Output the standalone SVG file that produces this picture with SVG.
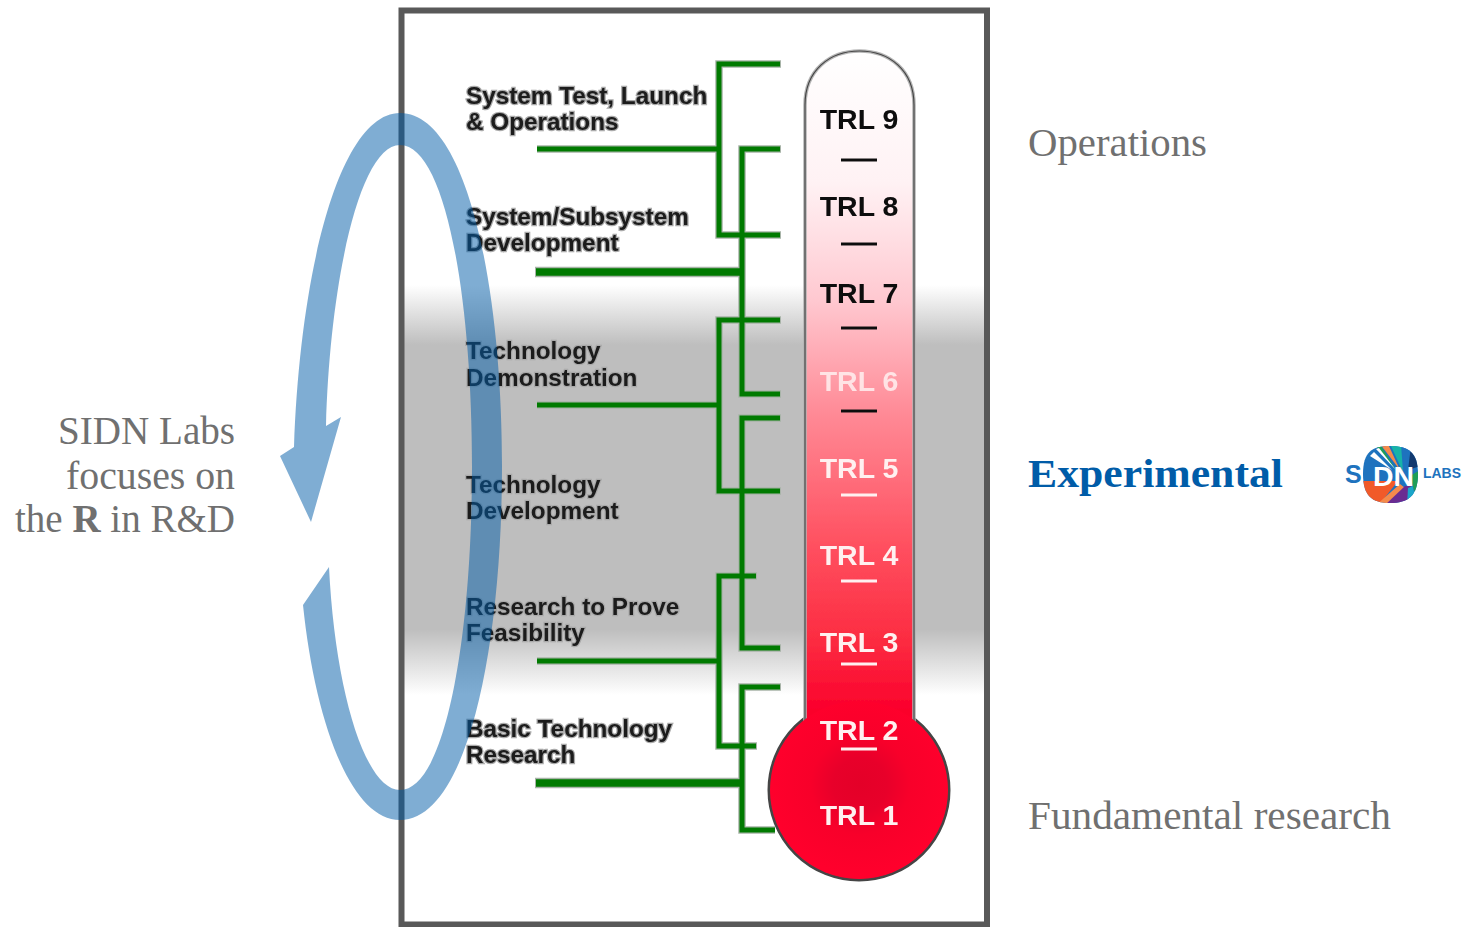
<svg xmlns="http://www.w3.org/2000/svg" width="1463" height="927" viewBox="0 0 1463 927">
<style>
.serif{font-family:"Liberation Serif","Times New Roman",serif;font-size:40px;fill:#707070}
.lbl{font-family:"Liberation Sans",Arial,sans-serif;font-weight:700;font-size:24.300px;fill:#1a1a1a;stroke:#aaa;stroke-width:2.500px;paint-order:stroke;filter:url(#soft)}
.trl{font-family:"Liberation Sans",Arial,sans-serif;font-weight:700;font-size:28.500px;text-anchor:middle;filter:url(#soft)}
.dk{fill:#0a0a0a}.lt{fill:#fff0f0}
.halo{stroke:#a8b4a8;fill:none;stroke-linecap:butt;filter:url(#soft)}
.gr{stroke:#007a00;fill:none;stroke-linecap:butt;filter:url(#soft)}
.h3{stroke-width:7.500px}.h5{stroke-width:10.500px}.g3{stroke-width:5px}.g5{stroke-width:7.500px}
.tick{stroke-width:3px;filter:url(#soft)}
</style>
<defs>
<filter id="soft" x="-5%" y="-30%" width="110%" height="160%"><feGaussianBlur stdDeviation="0.7"/></filter>
<linearGradient id="band" x1="0" y1="0" x2="0" y2="1">
<stop offset="0" stop-color="#fff"/>
<stop offset="0.146" stop-color="#bebebe"/>
<stop offset="0.84" stop-color="#bebebe"/>
<stop offset="1" stop-color="#fff"/>
</linearGradient>
<linearGradient id="merc" gradientUnits="userSpaceOnUse" x1="0" y1="50" x2="0" y2="710">
<stop offset="0" stop-color="#fff"/>
<stop offset="0.2" stop-color="#fff2f4"/>
<stop offset="0.38" stop-color="#ffc8d0"/>
<stop offset="0.55" stop-color="#ff8a96"/>
<stop offset="0.75" stop-color="#ff5060"/>
<stop offset="0.9" stop-color="#fc2a40"/>
<stop offset="1" stop-color="#fb002c"/>
</linearGradient>
<radialGradient id="bulb" gradientUnits="userSpaceOnUse" cx="860" cy="785" r="90">
<stop offset="0" stop-color="#e40028"/>
<stop offset="0.3" stop-color="#e8002a"/>
<stop offset="0.55" stop-color="#f8002a"/>
<stop offset="1" stop-color="#ff002c"/>
</radialGradient>
<clipPath id="blob"><path d="M1390 446C1408 446 1418 452 1418 474C1418 496 1408 503 1390 503C1372 503 1363 496 1363 474C1363 452 1372 446 1390 446Z"/></clipPath>
</defs>

<g id="frame">
<rect x="401" y="285" width="587" height="410" fill="url(#band)"/>
<rect x="401.500" y="10.500" width="585.500" height="914" fill="none" stroke="#595959" stroke-width="6"/>
</g>

<g id="connectors">
<path class="halo h3" d="M781 64H719V235H781M537 149H719M781 149H742V394H781M781 320H719V491H781M537 405H719M781 418H742V648H781M757 576H719V746H757M537 661H719M781 687H742V830H775"/>
<path class="halo h5" d="M535 272H742M535 783H742"/>
<path class="halo" stroke-width="8" d="M535 540H742"/>
<path class="gr g3" d="M780 64H719V235H780M537 149H719M780 149H742V394H780M780 320H719V491H780M537 405H719M780 418H742V648H780M756 576H719V746H756M537 661H719M780 687H742V830H775"/>
<path class="gr g5" d="M536 272H742M536 783H742"/>
<path class="gr" stroke-width="5.500" d="M536 540H742"/>
</g>

<g id="labels">
<text class="lbl" x="466" y="104">System Test, Launch</text>
<text class="lbl" x="466" y="130">&amp; Operations</text>
<text class="lbl" x="466" y="225">System/Subsystem</text>
<text class="lbl" x="466" y="251">Development</text>
<text class="lbl" x="466" y="359">Technology</text>
<text class="lbl" x="466" y="386">Demonstration</text>
<text class="lbl" x="466" y="493">Technology</text>
<text class="lbl" x="466" y="519">Development</text>
<text class="lbl" x="466" y="615">Research to Prove</text>
<text class="lbl" x="466" y="641">Feasibility</text>
<text class="lbl" x="466" y="737">Basic Technology</text>
<text class="lbl" x="466" y="763">Research</text>
</g>

<g id="thermometer">
<circle cx="859" cy="790" r="90" fill="#f80a2c" stroke="#444" stroke-width="3" filter="url(#soft)"/>
<path d="M805 725V105C805 70 830 51 859.500 51C889 51 914 70 914 105V725Z" fill="url(#merc)" stroke="#b4b4b4" stroke-width="3.500" filter="url(#soft)"/>
<path d="M805 725V105C805 70 830 51 859.500 51C889 51 914 70 914 105V725" fill="none" stroke="#444" stroke-width="1.200" filter="url(#soft)"/>
<circle cx="859" cy="790" r="89" fill="url(#bulb)"/>
<text class="trl dk" x="859" y="129">TRL 9</text>
<text class="trl dk" x="859" y="216">TRL 8</text>
<text class="trl dk" x="859" y="303">TRL 7</text>
<text class="trl lt" x="859" y="391" opacity="0.85">TRL 6</text>
<text class="trl lt" x="859" y="478">TRL 5</text>
<text class="trl lt" x="859" y="565">TRL 4</text>
<text class="trl lt" x="859" y="652">TRL 3</text>
<text class="trl lt" x="859" y="740">TRL 2</text>
<text class="trl lt" x="859" y="825">TRL 1</text>
<path class="tick" stroke="#111" d="M841 160H877M841 244H877M841 328H877M841 411H877"/>
<path class="tick" stroke="#fff0f0" d="M841 495H877M841 581H877M841 664H877M841 749H877"/>
</g>

<g id="cycle">
<path fill="#005ca8" fill-opacity="0.5" fill-rule="evenodd" d="M400 113C468 113 502 290 502 466C502 645 468 820 400 820C350 820 315 720 303 605L329 567C335 690 365 790 400 790C445 790 472 640 472 466C472 295 445 145 400 145C360 145 330 280 326 426L341 417L311 522L280 456L294 447C300 270 340 113 400 113Z"/>
</g>

<g id="sidetext">
<text class="serif" x="235" y="444" text-anchor="end" textLength="177" lengthAdjust="spacingAndGlyphs">SIDN Labs</text>
<text class="serif" x="235" y="489" text-anchor="end" textLength="169" lengthAdjust="spacingAndGlyphs">focuses on</text>
<text class="serif" x="235" y="532" text-anchor="end" textLength="220" lengthAdjust="spacingAndGlyphs">the <tspan font-weight="700">R</tspan> in R&amp;D</text>
<text class="serif" x="1028" y="156" textLength="179" lengthAdjust="spacingAndGlyphs">Operations</text>
<text class="serif" x="1028" y="487" font-weight="700" style="fill:#005ca8" textLength="255" lengthAdjust="spacingAndGlyphs">Experimental</text>
<text class="serif" x="1028" y="829" textLength="363" lengthAdjust="spacingAndGlyphs">Fundamental research</text>
</g>

<g id="logo">
<g clip-path="url(#blob)">
<rect x="1360" y="444" width="60" height="62" fill="#1e73be"/>
<path d="M1360 481H1398L1375 510H1360Z" fill="#f15a29"/>
<path d="M1400 484L1375 506H1386L1405 488Z" fill="#f58a4b"/>
<path d="M1405 486L1384 506H1407L1411 486Z" fill="#6a2c91"/>
<path d="M1408 488L1407 506H1416L1413 486Z" fill="#1ba6c9"/>
<path d="M1410 476L1420 470V500L1414 490Z" fill="#1f9e57"/>
<path d="M1408 470L1420 466V446H1411Z" fill="#12396f"/>
<path d="M1405 470L1411 446H1401Z" fill="#1e73be"/>
<path d="M1403 472L1401 444H1390Z" fill="#17b3a8"/>
<path d="M1400 470L1388 444H1380Z" fill="#f58a4b"/>
<path d="M1396 470L1380 444H1374Z" fill="#1f9e57"/>
<path d="M1392 470L1374 452L1370 456Z" fill="#fff"/>
<path d="M1396 470L1379 448L1376 449Z" fill="#fff"/>
</g>
<text x="1345" y="483" font-family="'Liberation Sans',Arial,sans-serif" font-weight="700" font-size="25" fill="#1e73be">S</text>
<text x="1373" y="486" font-family="'Liberation Sans',Arial,sans-serif" font-weight="700" font-size="27" fill="#fff" textLength="41" lengthAdjust="spacingAndGlyphs">DN</text>
<text x="1423" y="478" font-family="'Liberation Sans',Arial,sans-serif" font-weight="700" font-size="15" fill="#1e73be" textLength="38" lengthAdjust="spacingAndGlyphs">LABS</text>
</g>
</svg>
